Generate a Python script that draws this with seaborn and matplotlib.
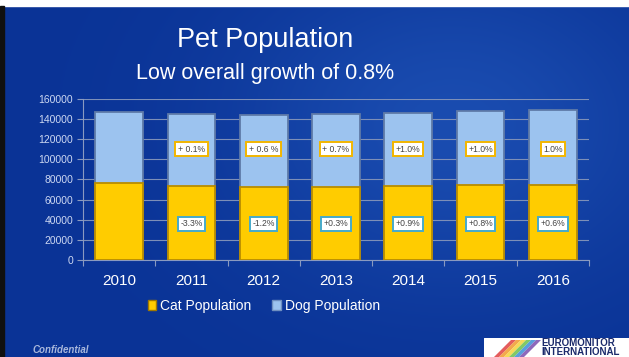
import numpy as np
import pandas as pd
import matplotlib
matplotlib.use("Agg")
import matplotlib.pyplot as plt
from matplotlib.patches import Rectangle, Patch
import seaborn as sns

# Pet population by year (units)
years = ["2010", "2011", "2012", "2013", "2014", "2015", "2016"]
cat_population = [76200, 73700, 72800, 73000, 73700, 74300, 74700]
dog_population = [71000, 71100, 71500, 72000, 72700, 73400, 74100]

# Year-on-year growth annotations
dog_growth = ["", "+ 0.1%", "+ 0.6 %", "+ 0.7%", "+1.0%", "+1.0%", "1.0%"]
cat_growth = ["", "-3.3%", "-1.2%", "+0.3%", "+0.9%", "+0.8%", "+0.6%"]

title = "Pet Population"
subtitle = "Low overall growth of 0.8%"

df = pd.DataFrame({"year": years, "cat": cat_population, "dog": dog_population})
df["total"] = df["cat"] + df["dog"]

sns.set_theme(style="white")
plt.rcParams["font.family"] = ["Liberation Sans", "DejaVu Sans"]

W, H = 629, 357
fig = plt.figure(figsize=(W / 100, H / 100), dpi=100)
fig.patch.set_facecolor("#0b3698")

# Slide background: deep blue with a soft lighter glow on the right
bg = fig.add_axes([0, 0, 1, 1], zorder=-10)
yy, xx = np.mgrid[0:1:200j, 0:1:300j]
glow = np.exp(-(((xx - 0.72) / 0.35) ** 2 + ((yy - 0.35) / 0.45) ** 2))
base = np.array([0x0a, 0x33, 0x96]) / 255
light = np.array([0x1a, 0x4c, 0xb0]) / 255
img = base[None, None, :] + (light - base)[None, None, :] * glow[..., None]
bg.imshow(img, extent=[0, 1, 0, 1], aspect="auto", origin="upper")
bg.set_xlim(0, 1)
bg.set_ylim(0, 1)
bg.axis("off")
# frame strips along the top and left edges
bg.add_patch(Rectangle((0, 1 - 6 / H), 1, 6 / H, color="white", zorder=5))
bg.add_patch(Rectangle((0, 0), 4 / W, 1 - 6 / H, color="#101010", zorder=5))

ax = fig.add_axes([83 / W, 1 - 260 / H, (589 - 83) / W, (260 - 99) / H])
ax.set_facecolor("none")

sns.barplot(data=df, x="year", y="total", color="#9cc3ef", width=0.66,
            edgecolor="#5f7aa8", linewidth=1.3, saturation=1, ax=ax, zorder=3)
sns.barplot(data=df, x="year", y="cat", color="#ffcc00", width=0.66,
            edgecolor="#b88c00", linewidth=1.3, saturation=1, ax=ax, zorder=4)

ax.set_ylim(0, 160000)
ax.set_xlim(-0.5, len(years) - 0.5)
ax.set_yticks(np.arange(0, 160001, 20000))
ax.yaxis.grid(True, color="#7d8fb8", linewidth=0.8, zorder=0)
ax.set_axisbelow(True)
ax.set_xlabel("")
ax.set_ylabel("")
for s in ["top", "right"]:
    ax.spines[s].set_visible(False)
for s in ["left", "bottom"]:
    ax.spines[s].set_color("#8a9ac0")
    ax.spines[s].set_linewidth(0.8)

ax.tick_params(axis="y", colors="#8a9ac0", labelcolor="#cdd8f2", labelsize=7.5,
               length=4, width=0.8, direction="out", left=True, pad=3)
ax.tick_params(axis="x", labelcolor="white", labelsize=11, length=0, pad=10)
# category boundary ticks along the bottom axis
ax.set_xticks(np.arange(-0.5, len(years), 1.0), minor=True)
ax.tick_params(axis="x", which="minor", bottom=True, length=4, width=0.8,
               color="#8a9ac0", direction="out")

for i in range(len(years)):
    if dog_growth[i]:
        ax.text(i, 110000, dog_growth[i], ha="center", va="center", fontsize=6.2,
                color="#444444", zorder=6,
                bbox=dict(boxstyle="square,pad=0.3", fc="white", ec="#f2b600", lw=1.4))
    if cat_growth[i]:
        ax.text(i, 36000, cat_growth[i], ha="center", va="center", fontsize=6.2,
                color="#444444", zorder=6,
                bbox=dict(boxstyle="square,pad=0.3", fc="white", ec="#45aacb", lw=1.4))

handles = [Patch(facecolor="#ffcc00", edgecolor="#a07800", label="Cat Population"),
           Patch(facecolor="#9cc3ef", edgecolor="#6f8fc0", label="Dog Population")]
fig.legend(handles=handles, loc="center", bbox_to_anchor=(264 / W, 1 - 306 / H),
           ncol=2, frameon=False, fontsize=10, labelcolor="white",
           handlelength=0.6, handleheight=0.8, handletextpad=0.3, columnspacing=1.5)

fig.text(265 / W, 1 - 40 / H, title, ha="center", va="center", color="white",
         fontsize=19.5)
fig.text(265 / W, 1 - 74 / H, subtitle, ha="center", va="center", color="white",
         fontsize=15.5)

fig.text(33 / W, 1 - 350 / H, "Confidential", ha="left", va="center",
         color="#a9b8dc", fontsize=7, fontstyle="italic", fontweight="bold")

# Publisher badge in the lower right corner
logo = fig.add_axes([484 / W, 0, (W - 484) / W, 19 / H])
logo.set_xlim(0, 145)
logo.set_ylim(0, 19)
logo.axis("off")
logo.add_patch(Rectangle((0, 0), 145, 19, color="white"))
stripe_colors = ["#e04040", "#f29a2e", "#f5d33a", "#6cc04a", "#3a8fd8", "#7a4fb0"]
for k, c in enumerate(stripe_colors):
    x0 = 10 + k * 5
    logo.fill([x0, x0 + 5, x0 + 22, x0 + 17], [0, 0, 17, 17], color=c, alpha=0.85, lw=0)
logo.text(57, 13.5, "EUROMONITOR", ha="left", va="center", color="#1b2a6b",
          fontsize=7, fontweight="bold")
logo.text(57, 5, "INTERNATIONAL", ha="left", va="center", color="#1b2a6b",
          fontsize=7, fontweight="bold")

fig.savefig("out.png", dpi=100, facecolor=fig.get_facecolor())
